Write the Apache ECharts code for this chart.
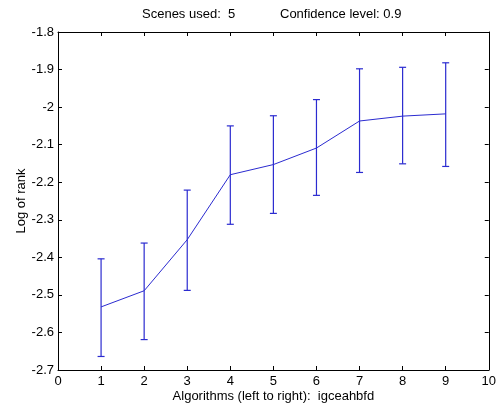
<!DOCTYPE html>
<html>
<head>
<meta charset="utf-8">
<script src="https://cdn.jsdelivr.net/npm/echarts@6/dist/echarts.min.js"></script>
<style>
html,body{margin:0;padding:0;background:#fff;}
#chart{width:499px;height:408px;}
</style>
</head>
<body>
<div id="chart"></div>
<script>
const algorithmPositions = [1, 2, 3, 4, 5, 6, 7, 8, 9];
const meanLogRank = [-2.532, -2.489, -2.353, -2.180, -2.153, -2.109, -2.037, -2.024, -2.018];
const lowerBound = [-2.664, -2.619, -2.488, -2.312, -2.283, -2.235, -2.174, -2.151, -2.158];
const upperBound = [-2.404, -2.362, -2.221, -2.050, -2.023, -1.980, -1.898, -1.894, -1.882];
const titleLeft = 'Scenes used:  5';
const titleRight = 'Confidence level: 0.9';
const xAxisTitle = 'Algorithms (left to right):  igceahbfd';
const yAxisTitle = 'Log of rank';

const FONT = 'Liberation Sans, Arial, sans-serif';
const FS = 13;
const LINE_COLOR = '#2b2bd0';
const chart = echarts.init(document.getElementById('chart'), null, {renderer: 'canvas'});

const errorData = algorithmPositions.map((x, i) => [x, lowerBound[i], upperBound[i]]);
const meanData = algorithmPositions.map((x, i) => [x, meanLogRank[i]]);

const fmtY = v => String(Number(v.toFixed(1)));

const option = {
  backgroundColor: '#ffffff',
  animation: false,
  grid: {left: 58, right: 9, top: 32, bottom: 36, containLabel: false},
  graphic: [
    {type: 'text', left: 142, top: 8, style: {text: titleLeft, font: FS + 'px ' + FONT, fill: '#000'}},
    {type: 'text', left: 280, top: 8, style: {text: titleRight, font: FS + 'px ' + FONT, fill: '#000'}}
  ],
  xAxis: [
    {
      type: 'value', min: 0, max: 10, interval: 1, position: 'bottom',
      axisLine: {show: true, onZero: false, lineStyle: {color: '#000', width: 1}},
      axisTick: {show: true, inside: true, length: 4, lineStyle: {color: '#000'}},
      axisLabel: {color: '#000', fontFamily: FONT, fontSize: FS, margin: 5},
      splitLine: {show: false},
      name: xAxisTitle, nameLocation: 'middle', nameGap: 20, nameMoveOverlap: false,
      nameTextStyle: {color: '#000', fontFamily: FONT, fontSize: FS}
    },
    {
      type: 'value', min: 0, max: 10, interval: 1, position: 'top',
      axisLine: {show: true, onZero: false, lineStyle: {color: '#000', width: 1}},
      axisTick: {show: true, inside: true, length: 4, lineStyle: {color: '#000'}},
      axisLabel: {show: false},
      splitLine: {show: false}
    }
  ],
  yAxis: [
    {
      type: 'value', min: -2.7, max: -1.8, interval: 0.1, position: 'left',
      axisLine: {show: true, onZero: false, lineStyle: {color: '#000', width: 1}},
      axisTick: {show: true, inside: true, length: 4, lineStyle: {color: '#000'}},
      axisLabel: {color: '#000', fontFamily: FONT, fontSize: FS, margin: 4, formatter: fmtY},
      splitLine: {show: false},
      name: yAxisTitle, nameLocation: 'middle', nameGap: 30, nameRotate: 90, nameMoveOverlap: false,
      nameTextStyle: {color: '#000', fontFamily: FONT, fontSize: FS}
    },
    {
      type: 'value', min: -2.7, max: -1.8, interval: 0.1, position: 'right',
      axisLine: {show: true, onZero: false, lineStyle: {color: '#000', width: 1}},
      axisTick: {show: true, inside: true, length: 4, lineStyle: {color: '#000'}},
      axisLabel: {show: false},
      splitLine: {show: false}
    }
  ],
  series: [
    {
      type: 'line', data: meanData, xAxisIndex: 0, yAxisIndex: 0,
      symbol: 'none', lineStyle: {color: LINE_COLOR, width: 1}, z: 3
    },
    {
      type: 'custom', xAxisIndex: 0, yAxisIndex: 0, data: errorData, z: 4,
      renderItem: function (params, api) {
        const x = api.value(0);
        const lo = api.coord([x, api.value(1)]);
        const hi = api.coord([x, api.value(2)]);
        const hw = 3.5;
        const st = {stroke: LINE_COLOR, lineWidth: 1.2};
        return {
          type: 'group',
          children: [
            {type: 'line', shape: {x1: lo[0], y1: lo[1], x2: hi[0], y2: hi[1]}, style: st},
            {type: 'line', shape: {x1: lo[0] - hw, y1: lo[1], x2: lo[0] + hw, y2: lo[1]}, style: st},
            {type: 'line', shape: {x1: hi[0] - hw, y1: hi[1], x2: hi[0] + hw, y2: hi[1]}, style: st}
          ]
        };
      }
    }
  ]
};
chart.setOption(option);
</script>
</body>
</html>
